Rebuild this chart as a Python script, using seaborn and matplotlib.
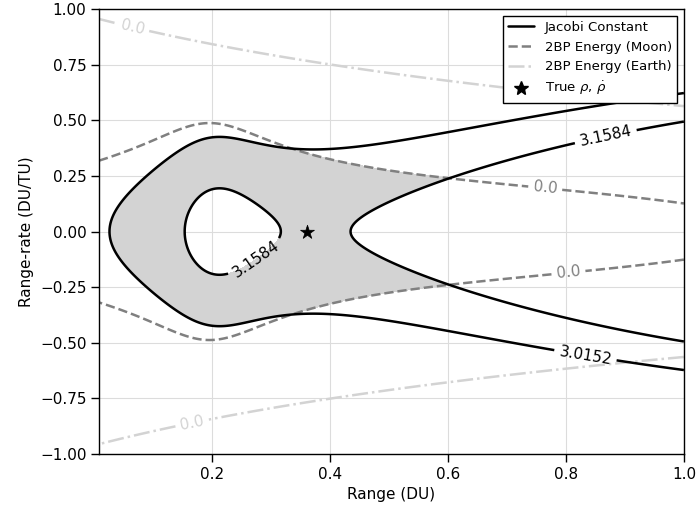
import numpy as np
import matplotlib
matplotlib.use("Agg")
import matplotlib.pyplot as plt
import seaborn as sns
from matplotlib.lines import Line2D

# ---- model parameters (Earth-Moon CR3BP, nondimensional units) ----
MU = 0.01215                       # Moon mass ratio
MOON_CA_RANGE = 0.194              # range of closest approach to the Moon along the line of sight
MOON_CA_DIST = 0.100               # miss distance from the Moon at closest approach
JACOBI_BASE = [2.8842, 0.2508, 0.4908, -0.2531]   # cubic in range: potential + transverse kinetic part
MOON_VT_RATE = 0.056               # Moon-relative transverse speed^2 = rate * (rho - rho0)^2
MOON_VT_ZERO = 0.5
EARTH_GM2 = 0.9365                 # Earth energy profile: 0.5*(rhodot^2 + vt2) - 0.5*gm2/(rho + offset)
EARTH_OFFSET = 0.84
EARTH_VT2 = 0.1912

JACOBI_LEVELS = [3.0152, 3.1584]
ENERGY_LEVELS = [0.0]
TRUE_RHO = [0.36]
TRUE_RHODOT = [0.0]

RANGE_LIMITS = (0.008, 1.0)
RATE_LIMITS = (-1.0, 1.0)

# ---- evaluate the fields on a range / range-rate grid ----
rho = np.linspace(RANGE_LIMITS[0], RANGE_LIMITS[1], 700)
rhodot = np.linspace(RATE_LIMITS[0], RATE_LIMITS[1], 700)
R, RD = np.meshgrid(rho, rhodot)

r_moon = np.sqrt((R - MOON_CA_RANGE) ** 2 + MOON_CA_DIST ** 2)
base = JACOBI_BASE[0] + JACOBI_BASE[1] * R + JACOBI_BASE[2] * R ** 2 + JACOBI_BASE[3] * R ** 3
jacobi = base + 2 * MU / r_moon - RD ** 2
energy_moon = 0.5 * (RD ** 2 + MOON_VT_RATE * (R - MOON_VT_ZERO) ** 2) - MU / r_moon
energy_earth = 0.5 * (RD ** 2 + EARTH_VT2) - 0.5 * EARTH_GM2 / (R + EARTH_OFFSET)

# admissible region: Jacobi constant between the two levels and bound to the Moon
admissible = np.minimum.reduce([jacobi - JACOBI_LEVELS[0], JACOBI_LEVELS[1] - jacobi, -energy_moon])

# ---- styling ----
sns.set_style("ticks", {"axes.grid": True, "grid.color": "#dcdcdc", "axes.edgecolor": "black",
                        "xtick.color": "black", "ytick.color": "black", "axes.labelcolor": "black",
                        "text.color": "black"})
plt.rcParams["font.family"] = ["DejaVu Sans"]
plt.rcParams.update({"xtick.major.size": 5.5, "ytick.major.size": 5.5,
                     "xtick.major.width": 1.0, "ytick.major.width": 1.0,
                     "axes.linewidth": 1.0, "grid.linewidth": 0.8,
                     "axes.unicode_minus": True})

fig = plt.figure(figsize=(6.98, 5.15), dpi=100)
ax = fig.add_axes([0.1418, 0.1184, 0.838, 0.864])

ax.contourf(R, RD, admissible, levels=[0, admissible.max() + 1], colors=["lightgray"], zorder=1)

cs_j = ax.contour(R, RD, jacobi, levels=JACOBI_LEVELS, colors="black", linewidths=1.8, zorder=3)
cs_m = ax.contour(R, RD, energy_moon, levels=ENERGY_LEVELS, colors="gray", linewidths=1.8,
                  linestyles="--", zorder=2)
cs_e = ax.contour(R, RD, energy_earth, levels=ENERGY_LEVELS, colors="lightgray", linewidths=1.8,
                  linestyles="-.", zorder=2)

ax.clabel(cs_j, fmt="%.4f", inline=True, fontsize=11,
          manual=[(0.273, -0.12), (0.868, 0.42), (0.834, -0.54)])
ax.clabel(cs_m, fmt="%.1f", inline=True, fontsize=11, manual=[(0.765, 0.2), (0.804, -0.18)])
ax.clabel(cs_e, fmt="%.1f", inline=True, fontsize=11, manual=[(0.066, 0.93), (0.166, -0.86)])

sns.scatterplot(x=TRUE_RHO, y=TRUE_RHODOT, marker="*", s=110, color="black", edgecolor="black",
                linewidth=0.5, zorder=5, ax=ax, legend=False)

ax.set_xlim(*RANGE_LIMITS)
ax.set_ylim(*RATE_LIMITS)
ax.set_xticks([0.2, 0.4, 0.6, 0.8, 1.0])
ax.set_yticks(np.linspace(-1.0, 1.0, 9))
ax.tick_params(labelsize=11)
for side in ["top", "right", "left", "bottom"]:
    ax.spines[side].set_visible(True)
    ax.spines[side].set_color("black")
ax.set_xlabel("Range (DU)", fontsize=11)
ax.set_ylabel("Range-rate (DU/TU)", fontsize=11)

handles = [
    Line2D([], [], color="black", lw=1.8),
    Line2D([], [], color="gray", lw=1.8, ls="--"),
    Line2D([], [], color="lightgray", lw=1.8, ls="-."),
    Line2D([], [], color="black", marker="*", ls="none", markersize=10),
]
labels = ["Jacobi Constant", "2BP Energy (Moon)", "2BP Energy (Earth)", r"True $\rho$, $\dot{\rho}$"]
leg = ax.legend(handles, labels, loc="upper right", fontsize=9.5, fancybox=False, framealpha=1.0,
                edgecolor="black")
leg.get_frame().set_linewidth(1.0)
leg.set_zorder(10)

fig.savefig("out.png", dpi=100)
